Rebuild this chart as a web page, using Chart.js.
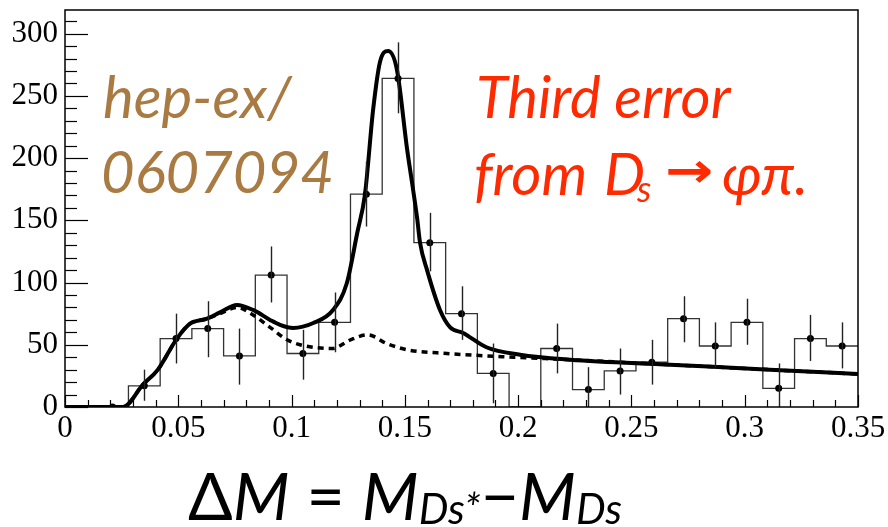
<!DOCTYPE html>
<html>
<head>
<meta charset="utf-8">
<script src="https://cdn.jsdelivr.net/npm/chart.js@4"></script>
<style>
  body { margin: 0; background: #fff; }
  canvas { display: block; }
</style>
</head>
<body>
<canvas id="chart" width="888" height="527"></canvas>
<script>
// axis setup
const xRange = [0, 0.35];
const yRange = [0, 319];
const xTicks = [0, 0.05, 0.1, 0.15, 0.2, 0.25, 0.3, 0.35];
const xTickLabels = ['0', '0.05', '0.1', '0.15', '0.2', '0.25', '0.3', '0.35'];
const yTicks = [0, 50, 100, 150, 200, 250, 300];

// histogram (25 bins, width 0.014)
const binCenters = [0.007, 0.021, 0.035, 0.049, 0.063, 0.077, 0.091, 0.105, 0.119, 0.133,
                    0.147, 0.161, 0.175, 0.189, 0.203, 0.217, 0.231, 0.245, 0.259, 0.273,
                    0.287, 0.301, 0.315, 0.329, 0.343];
const counts  = [0, 0, 17, 55, 63, 41, 106, 43, 68, 171, 264, 132, 75, 27, 0, 47, 14, 29, 36, 71, 49, 68, 15, 55, 49];
const errLow  = [null, 0, 5, 35, 40, 18, 84, 22, 44, 145, 236, 109, 54, 3, null, 27, 0, 10, 18, 52, 32, 50, 0, 37, 31];
const errHigh = [null, 0, 30, 75, 85, 63, 129, 62, 92, 197, 293, 156, 97, 51, null, 67, 32, 47, 54, 89, 68, 87, 35, 74, 68];

// total fit (solid)
const fitX = [0, 0.0256, 0.0344, 0.041, 0.0494, 0.0552, 0.0627, 0.0684, 0.0759, 0.083, 0.0905, 0.0949,
              0.1007, 0.1096, 0.1183, 0.1243, 0.129, 0.1324, 0.136, 0.139, 0.1426, 0.1465, 0.151,
              0.1532, 0.1554, 0.1567, 0.1598, 0.1655, 0.170, 0.1757, 0.186, 0.2008, 0.2229, 0.267, 0.311, 0.35];
const fitY = [0, 0, 18, 30, 55, 67, 71, 76, 82, 78, 70, 66,
              63.5, 67.5, 78, 99, 140, 171, 239, 277, 286, 271, 207,
              180, 152, 132, 110, 78, 64, 59.5, 48, 42, 38, 34, 30, 26.5];

// background (dotted)
const bkgX = [0, 0.0256, 0.0344, 0.041, 0.0494, 0.0552, 0.0627, 0.0684, 0.0759, 0.083, 0.0905, 0.098,
              0.1037, 0.118, 0.126, 0.1337, 0.142, 0.151, 0.1686, 0.198, 0.2229, 0.267, 0.311, 0.35];
const bkgY = [0, 0, 18, 30, 55, 67, 71, 75, 80, 74, 64, 54,
              50, 47, 54, 58, 51, 46, 43, 40, 38, 34, 30, 26.5];

const SERIF = "'Liberation Serif', 'Times New Roman', serif";
const SANS = "Lato, 'Open Sans', sans-serif";

const toPts = (xs, ys) => xs.map((x, i) => ({ x: x, y: ys[i] }));

const histPts = [{ x: xRange[0], y: counts[0] }]
  .concat(toPts(binCenters, counts))
  .concat([{ x: xRange[1], y: counts[counts.length - 1] }]);

const markerPts = binCenters.map((x, i) => errLow[i] === null ? null : { x: x, y: counts[i] }).filter(p => p);

// error bars, inward ticks, frame and text
const decorations = {
  id: 'decorations',
  afterDatasetsDraw(chart) {
    const { ctx, chartArea: a, scales: { x, y } } = chart;
    ctx.save();
    ctx.beginPath();
    ctx.rect(a.left, a.top, a.right - a.left, a.bottom - a.top);
    ctx.clip();
    ctx.strokeStyle = '#222';
    ctx.lineWidth = 1.4;
    binCenters.forEach((c, i) => {
      if (errLow[i] === null) return;
      const px = Math.round(x.getPixelForValue(c)) + 0.5;
      ctx.beginPath();
      ctx.moveTo(px, y.getPixelForValue(errLow[i]));
      ctx.lineTo(px, y.getPixelForValue(errHigh[i]));
      ctx.stroke();
    });
    ctx.restore();
  },
  afterDraw(chart) {
    const { ctx, chartArea: a, scales: { x, y } } = chart;
    ctx.save();
    ctx.strokeStyle = '#000';
    ctx.lineWidth = 1.2;
    // y ticks: major every 50, minor every 10
    for (let v = 0; v <= yRange[1]; v += 10) {
      const py = Math.round(y.getPixelForValue(v)) + 0.5;
      const len = v % 50 === 0 ? 23 : 12;
      ctx.beginPath();
      ctx.moveTo(a.left, py);
      ctx.lineTo(a.left + len, py);
      ctx.stroke();
    }
    // x ticks: major every 0.05, minor every 0.01
    for (let k = 0; k <= 35; k++) {
      const px = Math.round(x.getPixelForValue(k / 100)) + 0.5;
      const len = k % 5 === 0 ? 12 : 7;
      ctx.beginPath();
      ctx.moveTo(px, a.bottom);
      ctx.lineTo(px, a.bottom - len);
      ctx.stroke();
    }
    // frame
    ctx.lineWidth = 1.5;
    ctx.strokeRect(a.left, a.top, a.right - a.left, a.bottom - a.top);

    // annotations
    ctx.textBaseline = 'alphabetic';
    ctx.textAlign = 'left';
    ctx.fillStyle = '#a97a42';
    ctx.font = 'italic 58px ' + SANS;
    ctx.fillText('hep-ex/', 103, 118);
    ctx.fillText('0607094', 101, 193);

    ctx.fillStyle = '#ff2a00';
    ctx.fillText('Third error', 476, 118);
    ctx.fillText('from', 474, 195);
    ctx.fillText('D', 604, 195);
    ctx.font = 'italic 36px ' + SANS;
    ctx.fillText('s', 637, 202);
    // arrow, stretched a little to match the wide original glyph
    ctx.font = "bold 48px 'DejaVu Sans'";
    ctx.save();
    ctx.translate(665, 187);
    ctx.scale(1.2, 1);
    ctx.fillText('\u2192', 0, 0);
    ctx.restore();
    ctx.font = 'italic 58px ' + SANS;
    ctx.fillText('\u03c6\u03c0.', 722, 195);

    // axis title
    ctx.fillStyle = '#000';
    let tx = 188;
    const base = 520;
    const part = (txt, font, dy) => {
      ctx.font = font;
      ctx.fillText(txt, tx, base + (dy || 0));
      tx += ctx.measureText(txt).width;
    };
    part('\u0394', '66px ' + SANS);
    part('M', 'italic 66px ' + SANS);
    part(' = ', '66px ' + SANS);
    part('M', 'italic 66px ' + SANS);
    part('Ds*', 'italic 42px ' + SANS, 4);
    part('\u2212', '66px ' + SANS);
    part('M', 'italic 66px ' + SANS);
    part('Ds', 'italic 42px ' + SANS, 4);
    ctx.restore();
  }
};

const noPad = s => { s.paddingTop = 0; s.paddingBottom = 0; s.paddingLeft = 0; s.paddingRight = 0; };

new Chart(document.getElementById('chart'), {
  type: 'scatter',
  data: {
    datasets: [
      {
        label: 'data',
        data: markerPts,
        showLine: false,
        pointRadius: 3.5,
        pointBackgroundColor: '#000',
        pointBorderWidth: 0,
        order: 0
      },
      {
        label: 'fit',
        data: toPts(fitX, fitY),
        showLine: true,
        borderColor: '#000',
        borderWidth: 4,
        pointRadius: 0,
        cubicInterpolationMode: 'monotone',
        order: 1
      },
      {
        label: 'background',
        data: toPts(bkgX, bkgY),
        showLine: true,
        borderColor: '#000',
        borderWidth: 3.5,
        borderDash: [6, 5],
        pointRadius: 0,
        cubicInterpolationMode: 'monotone',
        order: 2
      },
      {
        label: 'histogram',
        data: histPts,
        showLine: true,
        stepped: 'middle',
        borderColor: '#333',
        borderWidth: 1.3,
        pointRadius: 0,
        order: 3
      }
    ]
  },
  options: {
    responsive: false,
    animation: false,
    layout: { padding: { top: 10, right: 30, left: 0, bottom: 0 } },
    plugins: { legend: { display: false }, tooltip: { enabled: false } },
    scales: {
      x: {
        type: 'linear',
        min: xRange[0],
        max: xRange[1],
        afterBuildTicks: s => { s.ticks = xTicks.map(v => ({ value: v })); },
        afterFit: s => { s.height = 120; noPad(s); },
        grid: { display: false, drawTicks: false },
        border: { display: false },
        ticks: {
          padding: 3,
          maxRotation: 0,
          autoSkip: false,
          color: '#000',
          font: { family: SERIF, size: 31 },
          callback: (v) => xTickLabels[xTicks.indexOf(v)]
        }
      },
      y: {
        type: 'linear',
        min: yRange[0],
        max: yRange[1],
        afterBuildTicks: s => { s.ticks = yTicks.map(v => ({ value: v })); },
        afterFit: s => { s.width = 65; noPad(s); },
        grid: { display: false, drawTicks: false },
        border: { display: false },
        ticks: {
          padding: 7,
          color: '#000',
          font: { family: SERIF, size: 31 }
        }
      }
    }
  },
  plugins: [decorations]
});
</script>
</body>
</html>
